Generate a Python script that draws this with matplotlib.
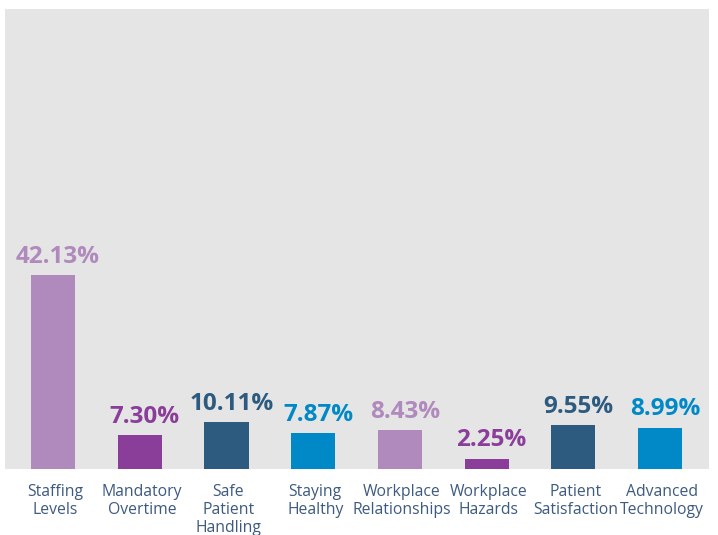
import matplotlib.pyplot as plt
from matplotlib.transforms import ScaledTranslation

categories = ["Staffing\nLevels", "Mandatory\nOvertime", "Safe\nPatient\nHandling",
              "Staying\nHealthy", "Workplace\nRelationships", "Workplace\nHazards",
              "Patient\nSatisfaction", "Advanced\nTechnology"]
values = [42.13, 7.30, 10.11, 7.87, 8.43, 2.25, 9.55, 8.99]
labels = ["42.13%", "7.30%", "10.11%", "7.87%", "8.43%", "2.25%", "9.55%", "8.99%"]

LPURPLE = "#b08abd"
PURPLE = "#8a3e9a"
DBLUE = "#2d5a7f"
BLUE = "#0089c6"
colors = [LPURPLE, PURPLE, DBLUE, BLUE, LPURPLE, PURPLE, DBLUE, BLUE]

plt.rcParams['font.family'] = ['Open Sans', 'DejaVu Sans']

fig = plt.figure(figsize=(7.18, 5.35), dpi=100)
ax = fig.add_axes([5/718, 66/535, 704/718, 460/535])
ax.set_facecolor("#e5e5e5")

x = list(range(len(values)))
bars = ax.bar(x, values, width=0.51, color=colors, zorder=2)

for b, lab, c in zip(bars, labels, colors):
    ax.annotate(lab, (b.get_x() + b.get_width()/2, b.get_height()),
                xytext=(3.5, 4.5), textcoords="offset points",
                ha="center", va="bottom", fontsize=17.5, fontweight="bold", color=c)

ax.set_xlim(-0.555, 7.565)
ax.set_ylim(0, 100)
ax.set_yticks([])
ax.set_xticks(x)
ax.set_xticklabels(categories, fontsize=11.3, color="#3d5a80", linespacing=1.2)
ax.tick_params(axis="x", length=0, pad=10.5)
shift = ScaledTranslation(2/100, 0, fig.dpi_scale_trans)
for t in ax.get_xticklabels():
    t.set_transform(t.get_transform() + shift)
for s in ax.spines.values():
    s.set_visible(False)

fig.savefig("out.png", dpi=100)
